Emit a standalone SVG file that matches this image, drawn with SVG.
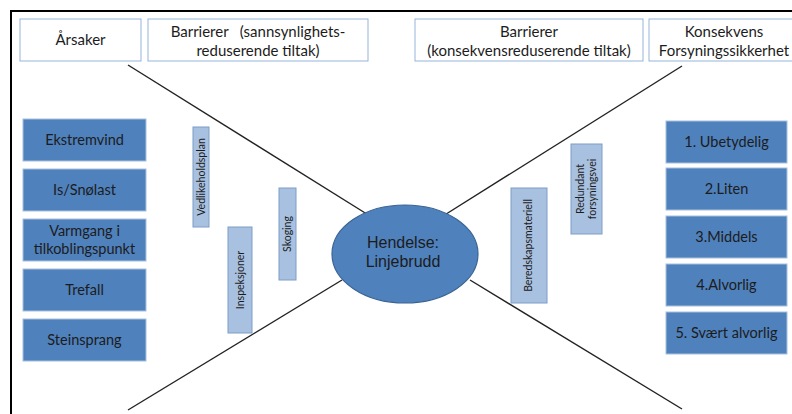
<svg xmlns="http://www.w3.org/2000/svg" width="792" height="414" viewBox="0 0 792 414">
  <style>
    .head { fill: #ffffff; stroke: #95b3d7; stroke-width: 1; }
    .cause { fill: #4f81bd; stroke: #a9c0de; stroke-width: 1; }
    .bar { fill: #a9c1e0; stroke: #7d9cc6; stroke-width: 1; }
    .line { stroke: #222; stroke-width: 1.4; fill: none; }
    .frame { stroke: #000; stroke-width: 2; fill: none; }
    text { font-family: Lato, "Liberation Sans", sans-serif; fill: #1c1c1c; text-anchor: middle; }
    .ht { font-size: 15px; }
    .bt { font-size: 14.5px; }
    .vt { font-size: 10.5px; }
    .et { font-family: "Liberation Sans", Arial, sans-serif; font-size: 16px; }
  </style>

  <rect width="792" height="414" fill="#ffffff"/>

  <!-- outer frame (top and left edges) -->
  <path class="frame" d="M11,414 V11 H792"/>

  <!-- header captions -->
  <g id="hdr-arsaker">
    <rect class="head" x="20" y="19" width="121" height="42"/>
    <text class="ht" x="80.5" y="45">Årsaker</text>
  </g>
  <g id="hdr-barrierer-sannsynlighet">
    <rect class="head" x="148" y="19" width="220" height="42"/>
    <text class="ht" x="258" y="37" xml:space="preserve">Barrierer   (sannsynlighets-</text>
    <text class="ht" x="258" y="56">reduserende tiltak)</text>
  </g>
  <g id="hdr-barrierer-konsekvens">
    <rect class="head" x="415" y="19" width="228" height="42"/>
    <text class="ht" x="529" y="37">Barrierer</text>
    <text class="ht" x="529" y="56">(konsekvensreduserende tiltak)</text>
  </g>
  <g id="hdr-konsekvens">
    <rect class="head" x="649" y="19" width="150" height="42"/>
    <text class="ht" x="724" y="37">Konsekvens</text>
    <text class="ht" x="724" y="56">Forsyningssikkerhet</text>
  </g>

  <!-- bow-tie connectors -->
  <g id="connectors">
    <line class="line" x1="128" y1="65" x2="370" y2="216"/>
    <line class="line" x1="128" y1="410" x2="342" y2="280"/>
    <line class="line" x1="682" y1="66" x2="443" y2="216"/>
    <line class="line" x1="470" y1="280" x2="682" y2="409"/>
  </g>

  <!-- causes -->
  <g id="cause-ekstremvind">
    <rect class="cause" x="23" y="119" width="123" height="42"/>
    <text class="bt" x="84.5" y="145">Ekstremvind</text>
  </g>
  <g id="cause-isnolast">
    <rect class="cause" x="23" y="169" width="123" height="42"/>
    <text class="bt" x="84.5" y="195">Is/Snølast</text>
  </g>
  <g id="cause-varmgang">
    <rect class="cause" x="23" y="219" width="123" height="42"/>
    <text class="bt" x="84.5" y="236">Varmgang i</text>
    <text class="bt" x="84.5" y="254">tilkoblingspunkt</text>
  </g>
  <g id="cause-trefall">
    <rect class="cause" x="23" y="269" width="123" height="42"/>
    <text class="bt" x="84.5" y="295">Trefall</text>
  </g>
  <g id="cause-steinsprang">
    <rect class="cause" x="23" y="319" width="123" height="42"/>
    <text class="bt" x="84.5" y="345">Steinsprang</text>
  </g>

  <!-- preventive barriers -->
  <g id="bar-vedlikeholdsplan">
    <rect class="bar" x="193" y="127" width="16" height="100"/>
    <text class="vt" transform="translate(204.5,177) rotate(-90)">Vedlikeholdsplan</text>
  </g>
  <g id="bar-inspeksjoner">
    <rect class="bar" x="228" y="227" width="24" height="106"/>
    <text class="vt" transform="translate(243.5,280) rotate(-90)">Inspeksjoner</text>
  </g>
  <g id="bar-skoging">
    <rect class="bar" x="279" y="188" width="17" height="92"/>
    <text class="vt" transform="translate(291,234) rotate(-90)">Skoging</text>
  </g>

  <!-- top event -->
  <g id="event">
    <ellipse cx="405" cy="254" rx="73" ry="49" fill="#4f81bd" stroke="#3a6494" stroke-width="1.2"/>
    <text class="et" x="403" y="248">Hendelse:</text>
    <text class="et" x="403" y="267">Linjebrudd</text>
  </g>

  <!-- mitigating barriers -->
  <g id="bar-beredskapsmateriell">
    <rect class="bar" x="511" y="188" width="36" height="115"/>
    <text class="vt" transform="translate(532,245.5) rotate(-90)">Beredskapsmateriell</text>
  </g>
  <g id="bar-redundant">
    <rect class="bar" x="571" y="144" width="31" height="90"/>
    <text class="vt" transform="translate(584,189) rotate(-90)">Redundant</text>
    <text class="vt" transform="translate(596,189) rotate(-90)">forsyningsvei</text>
  </g>

  <!-- consequences -->
  <g id="cons-1">
    <rect class="cause" x="666" y="121" width="121" height="42"/>
    <text class="bt" x="726.5" y="147">1. Ubetydelig</text>
  </g>
  <g id="cons-2">
    <rect class="cause" x="666" y="168" width="121" height="42"/>
    <text class="bt" x="726.5" y="194">2.Liten</text>
  </g>
  <g id="cons-3">
    <rect class="cause" x="666" y="216" width="121" height="42"/>
    <text class="bt" x="726.5" y="242">3.Middels</text>
  </g>
  <g id="cons-4">
    <rect class="cause" x="666" y="264" width="121" height="42"/>
    <text class="bt" x="726.5" y="290">4.Alvorlig</text>
  </g>
  <g id="cons-5">
    <rect class="cause" x="666" y="312" width="121" height="42"/>
    <text class="bt" x="726.5" y="338">5. Svært alvorlig</text>
  </g>
</svg>
